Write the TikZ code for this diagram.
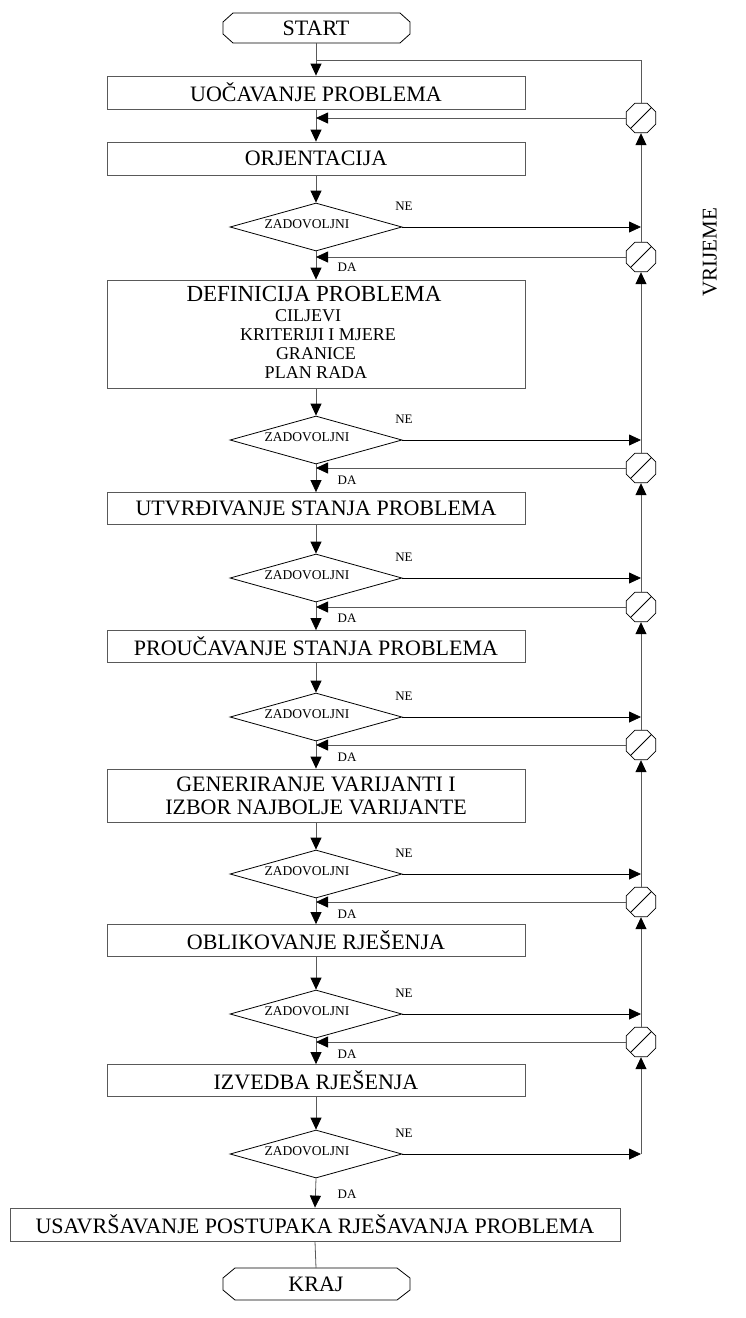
\documentclass[tikz,border=0pt]{standalone}
\usepackage{fontspec}
\setmainfont{Liberation Serif}
\usetikzlibrary{arrows.meta,shapes.geometric}
\begin{document}
\begin{tikzpicture}[x=1pt,y=-1pt,
  glin/.style={draw=black!65,line width=0.8pt},
  blin/.style={draw=black,line width=0.8pt},
  arr/.style={-{Triangle[length=12pt,width=11pt,color=black,fill=black]}},
  box/.style={draw=black!65,line width=0.8pt,rectangle,minimum width=418pt,inner sep=0pt,font=\fontsize{22}{24}\selectfont,align=center},
  dia/.style={draw=black,line width=0.8pt,diamond,minimum width=172pt,minimum height=48pt,inner sep=0pt},
  ztxt/.style={font=\fontsize{13.5}{15}\selectfont,inner sep=0pt},
  small/.style={font=\fontsize{13}{15}\selectfont,inner sep=0pt},
  oct/.style={draw=black,line width=0.8pt,regular polygon,regular polygon sides=8,minimum size=32pt,inner sep=0pt,fill=white},
  term/.style={draw=black,line width=0.8pt}
]
\useasboundingbox (0,0) rectangle (746,1318);

% terminals
\draw[term] (233,13) -- (400,13) -- (410,22) -- (410,34) -- (400,43) -- (233,43) -- (223,34) -- (223,22) -- cycle;
\node[font=\fontsize{22}{24}\selectfont,inner sep=0pt] (start) at (316,28) {START};
\coordinate (startb) at (316,43);
\draw[term] (235,1268) -- (397,1268) -- (410,1278) -- (410,1290) -- (397,1300) -- (235,1300) -- (223,1290) -- (223,1278) -- cycle;
\node[font=\fontsize{22}{24}\selectfont,inner sep=0pt] (kraj) at (316,1284) {KRAJ};
\coordinate (krajt) at (316,1268);

% boxes
\node[box,minimum height=33pt] (b1) at (316,92.5) {UOČAVANJE PROBLEMA};
\node[box,minimum height=33pt] (b2) at (316,158.5) {ORJENTACIJA};
\node[box,minimum height=108pt] (b3) at (316,334) {};
\node[font=\fontsize{23}{25}\selectfont,inner sep=0pt] (t3a) at (314,294) {DEFINICIJA PROBLEMA};
\node[font=\fontsize{18}{20}\selectfont,inner sep=0pt] (t3b) at (308,316) {CILJEVI};
\node[font=\fontsize{18}{20}\selectfont,inner sep=0pt] (t3c) at (318,335) {KRITERIJI I MJERE};
\node[font=\fontsize{18}{20}\selectfont,inner sep=0pt] (t3d) at (316,354) {GRANICE};
\node[font=\fontsize{18}{20}\selectfont,inner sep=0pt] (t3e) at (316,373) {PLAN RADA};
\node[box,minimum height=32pt] (b4) at (316,508.5) {UTVRĐIVANJE STANJA PROBLEMA};
\node[box,minimum height=32pt] (b5) at (316,646.5) {PROUČAVANJE STANJA PROBLEMA};
\node[box,minimum height=53pt,font=\fontsize{22}{23}\selectfont] (b6) at (316,795.5) {GENERIRANJE VARIJANTI I\\IZBOR NAJBOLJE VARIJANTE};
\node[box,minimum height=32pt] (b7) at (316,940.5) {OBLIKOVANJE RJEŠENJA};
\node[box,minimum height=32pt] (b8) at (316,1080.5) {IZVEDBA RJEŠENJA};
\node[box,minimum height=33pt,minimum width=610pt] (b9) at (315,1224.5) {USAVRŠAVANJE POSTUPAKA RJEŠAVANJA PROBLEMA};

% diamonds
\foreach \i/\y in {1/227,2/440,3/578,4/717,5/874,6/1014,7/1154}{
  \node[dia] (d\i) at (316,\y) {};
  \node[ztxt] (z\i) at (307,\y-3) {ZADOVOLJNI};
  \node[small] (ne\i) at (404,\y-21) {NE};
  \node[small] (da\i) at (347,\y+40) {DA};
}

% octagons
\foreach \i/\y in {1/118,2/257,3/468,4/607,5/745,6/902,7/1042}{
  \node[oct] (o\i) at (641,\y) {};
  \draw[blin] (o\i.center) ++(135:14.5) -- ++(-45:29);
}

\coordinate (top) at (641,60);

% main line
\draw[glin,arr] (startb) -- (b1.north);
\draw[glin] (o1.north) -- (top) -- (top -| startb);
\draw[glin,arr] (b1.south) -- (b2.north);
\draw[glin,arr] (b2.south) -- (d1.north);
\draw[glin,arr] (d1.south) -- (b3.north);
\draw[glin,arr] (b3.south) -- (d2.north);
\draw[glin,arr] (d2.south) -- (b4.north);
\draw[glin,arr] (b4.south) -- (d3.north);
\draw[glin,arr] (d3.south) -- (b5.north);
\draw[glin,arr] (b5.south) -- (d4.north);
\draw[glin,arr] (d4.south) -- (b6.north);
\draw[glin,arr] (b6.south) -- (d5.north);
\draw[glin,arr] (d5.south) -- (b7.north);
\draw[glin,arr] (b7.south) -- (d6.north);
\draw[glin,arr] (d6.south) -- (b8.north);
\draw[glin,arr] (b8.south) -- (d7.north);
\draw[glin,arr] (d7.south) -- (b9.north);
\draw[glin] (b9.south) -- (krajt);

% feedback lines
\foreach \i in {1,...,7}{
  \draw[glin,arr] (o\i.west) -- (o\i.west -| startb);
}

% NE lines
\foreach \i in {1,...,7}{
  \draw[blin,arr] (d\i.east) -- (d\i.east -| top);
}

% right vertical line
\foreach \i/\j in {1/2,2/3,3/4,4/5,5/6,6/7}{
  \draw[glin,arr] (o\j.north) -- (o\i.south);
}
\draw[glin,arr] (d7.east -| top) -- (o7.south);

% time label
\node[rotate=90,font=\fontsize{21}{23}\selectfont,inner sep=0pt] (vr) at (710,252) {VRIJEME};
\end{tikzpicture}
\end{document}
